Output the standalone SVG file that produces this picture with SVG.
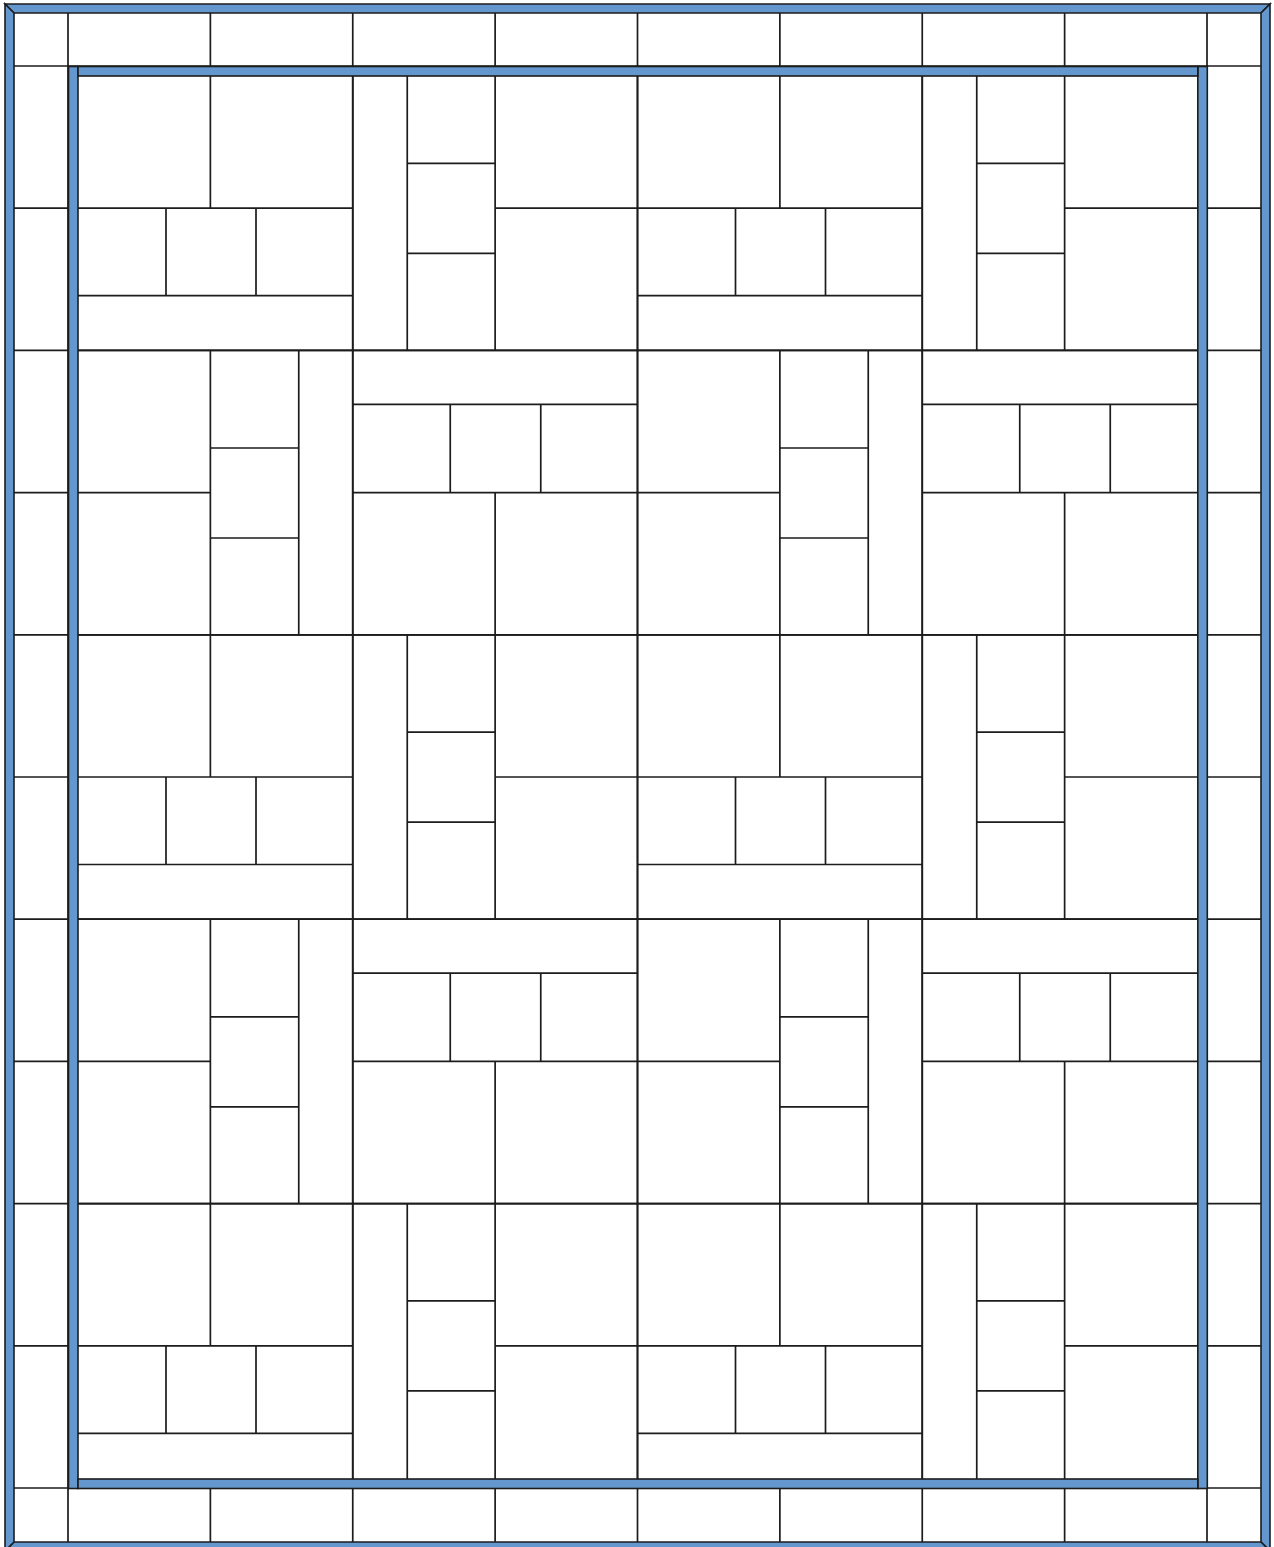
<svg xmlns="http://www.w3.org/2000/svg" width="1274" height="1547" viewBox="0 0 1274 1547">
<style>
.ln{fill:none;stroke:#1c1c1c;stroke-width:1.7}
.band{fill:#6497cd;stroke:#1c1c1c;stroke-width:1.6;stroke-linejoin:miter}
</style>
<defs>
<path id="A" class="ln" d="M0,0H284.75V284.4H0Z M142.375,0V142.2 M0,142.2H284.75 M0,229.7H284.75 M98,142.2V229.7 M188,142.2V229.7"/>
<path id="B" class="ln" d="M0,0H284.75V284.4H0Z M54.5,0V284.4 M142.375,0V284.4 M142.375,142.2H284.75 M54.5,97.3H142.375 M54.5,187.3H142.375"/>
<path id="C" class="ln" d="M0,0H284.75V284.4H0Z M142.375,0V284.4 M0,142.2H142.375 M230.75,0V284.4 M142.375,97.6H230.75 M142.375,187.6H230.75"/>
<path id="D" class="ln" d="M0,0H284.75V284.4H0Z M0,54H284.75 M0,142.2H284.75 M142.375,142.2V284.4 M97.5,54V142.2 M188,54V142.2"/>
</defs>
<rect x="0" y="0" width="1274" height="1547" fill="#ffffff"/>
<g id="border-cells">
<path class="ln" d="M68,13V66 M210.375,13V66 M352.75,13V66 M495.125,13V66 M637.5,13V66 M779.875,13V66 M922.25,13V66 M1064.625,13V66 M1207,13V66
M68,1488V1542 M210.375,1488V1542 M352.75,1488V1542 M495.125,1488V1542 M637.5,1488V1542 M779.875,1488V1542 M922.25,1488V1542 M1064.625,1488V1542 M1207,1488V1542
M14,66H68 M14,208.2H68 M14,350.4H68 M14,492.6H68 M14,634.8H68 M14,777H68 M14,919.2H68 M14,1061.4H68 M14,1203.6H68 M14,1345.8H68 M14,1488H68
M1207,66H1261 M1207,208.2H1261 M1207,350.4H1261 M1207,492.6H1261 M1207,634.8H1261 M1207,777H1261 M1207,919.2H1261 M1207,1061.4H1261 M1207,1203.6H1261 M1207,1345.8H1261 M1207,1488H1261"/>
</g>
<g id="blocks">
<g id="block-r0c0"><use href="#A" x="68" y="66"/></g>
<g id="block-r0c1"><use href="#B" x="352.75" y="66"/></g>
<g id="block-r0c2"><use href="#A" x="637.5" y="66"/></g>
<g id="block-r0c3"><use href="#B" x="922.25" y="66"/></g>
<g id="block-r1c0"><use href="#C" x="68" y="350.4"/></g>
<g id="block-r1c1"><use href="#D" x="352.75" y="350.4"/></g>
<g id="block-r1c2"><use href="#C" x="637.5" y="350.4"/></g>
<g id="block-r1c3"><use href="#D" x="922.25" y="350.4"/></g>
<g id="block-r2c0"><use href="#A" x="68" y="634.8"/></g>
<g id="block-r2c1"><use href="#B" x="352.75" y="634.8"/></g>
<g id="block-r2c2"><use href="#A" x="637.5" y="634.8"/></g>
<g id="block-r2c3"><use href="#B" x="922.25" y="634.8"/></g>
<g id="block-r3c0"><use href="#C" x="68" y="919.2"/></g>
<g id="block-r3c1"><use href="#D" x="352.75" y="919.2"/></g>
<g id="block-r3c2"><use href="#C" x="637.5" y="919.2"/></g>
<g id="block-r3c3"><use href="#D" x="922.25" y="919.2"/></g>
<g id="block-r4c0"><use href="#A" x="68" y="1203.6"/></g>
<g id="block-r4c1"><use href="#B" x="352.75" y="1203.6"/></g>
<g id="block-r4c2"><use href="#A" x="637.5" y="1203.6"/></g>
<g id="block-r4c3"><use href="#B" x="922.25" y="1203.6"/></g>
</g>
<g id="inner-band">
<rect class="band" x="68.5" y="66.5" width="9.5" height="1422"/>
<rect class="band" x="1197.8" y="66.5" width="9.5" height="1422"/>
<rect class="band" x="78" y="66.5" width="1119.8" height="9.5"/>
<rect class="band" x="78" y="1479" width="1119.8" height="9.5"/>
</g>
<g id="outer-frame">
<polygon class="band" points="5,4 1270,4 1261,13 14,13"/>
<polygon class="band" points="1270,4 1270,1551 1261,1542 1261,13"/>
<polygon class="band" points="5,1551 1270,1551 1261,1542 14,1542"/>
<polygon class="band" points="5,4 14,13 14,1542 5,1551"/>
</g>
</svg>
